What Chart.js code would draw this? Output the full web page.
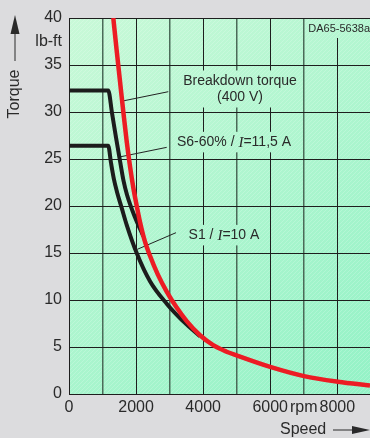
<!DOCTYPE html>
<html>
<head>
<meta charset="utf-8">
<script src="https://cdn.jsdelivr.net/npm/chart.js@4.4.0/dist/chart.umd.min.js"></script>
<style>
  html, body { margin: 0; padding: 0; background: #dcdcde; overflow: hidden; }
  #wrap { width: 370px; height: 438px; }
</style>
</head>
<body>
<div id="wrap"><canvas id="myChart" width="370" height="438"></canvas></div>
<script>
// Torque (lb-ft) against speed (rpm)
const breakdownRpm    = [1321, 1420, 1520, 1620, 1720, 1820, 1920, 2020, 2117, 2250, 2415, 2650, 2913, 3200, 3509, 3906, 4300, 4700, 5000, 6023, 7007, 8020, 8975];
const breakdownTorque = [40.0, 36.6, 33.3, 30.0, 26.9, 24.2, 21.9, 20.0, 18.3, 16.4, 14.7, 12.7, 10.9, 9.25, 7.75, 6.25, 5.2, 4.5, 4.1, 2.85, 1.9, 1.3, 0.9];

const s6Rpm    = [0, 1170, 1282, 1401, 1521, 1625, 1729, 1968, 2215];
const s6Torque = [32.3, 32.3, 29.9, 27.3, 24.8, 22.7, 21.2, 18.8, 16.8];

const s1Rpm    = [0, 1170, 1252, 1342, 1431, 1571, 1720, 2018, 2415, 2913, 3300, 3600, 3906];
const s1Torque = [26.4, 26.4, 24.6, 22.8, 21.5, 19.8, 18.0, 15.0, 12.0, 9.6, 8.1, 7.1, 6.15];

const xTickValues = [0, 1000, 2000, 3000, 4000, 5000, 6000, 7000, 8000];
const xTickLabels = ['0', '', '2000', '', '4000', '', '6000', 'rpm', '8000'];
const yTickValues = [0, 2.5, 5, 7.5, 10, 12.5, 15, 17.5, 20, 22.5, 25, 27.5, 30, 32.5, 35, 37.5, 40];
const yUnitLabel = 'lb-ft';

// Callouts: text anchor and leader line, in data units
const callouts = [
  { lines: [[{ t: 'Breakdown torque' }], [{ t: '(400 V)' }]], at: [5098, 32.45], from: [2961, 32.16], to: [1601, 31.17] },
  { lines: [[{ t: 'S6-60% / ' }, { t: 'I', it: true }, { t: '=11,5 A' }]], at: [4920, 26.8], from: [2913, 26.24], to: [1541, 25.24] },
  { lines: [[{ t: 'S1 / ' }, { t: 'I', it: true }, { t: '=10 A' }]], at: [4621, 16.9], from: [3190, 17.16], to: [2036, 15.39] }
];

const SANS = '"Liberation Sans", Arial, sans-serif';
const TEXT = '#2a2a2a';
const GRID = '#1e1e1e';

function toPoints(xs, ys) {
  return xs.map((x, i) => ({ x: x, y: ys[i] }));
}

function makeHatch() {
  const c = document.createElement('canvas');
  c.width = 4; c.height = 4;
  const h = c.getContext('2d');
  h.strokeStyle = 'rgba(255,255,255,0.18)';
  h.lineWidth = 1;
  h.beginPath();
  h.moveTo(0, 4); h.lineTo(4, 0);
  h.stroke();
  return c;
}
const hatch = makeHatch();

function fillPlot(chart, x, y, w, h) {
  const ctx = chart.ctx;
  ctx.fillStyle = chart.$bg;
  ctx.fillRect(x, y, w, h);
  ctx.fillStyle = ctx.createPattern(hatch, 'repeat');
  ctx.fillRect(x, y, w, h);
}

function partFont(p) {
  return p.it ? 'italic 15px "Liberation Serif", "Times New Roman", serif' : '14px ' + SANS;
}

function lineWidthOf(ctx, parts) {
  let w = 0;
  parts.forEach(p => { ctx.font = partFont(p); w += ctx.measureText(p.t).width; });
  return w;
}

const plotDecor = {
  id: 'plotDecor',
  beforeDraw(chart) {
    const { ctx, chartArea: a } = chart;
    ctx.save();
    ctx.fillStyle = '#dcdcde';
    ctx.fillRect(0, 0, chart.width, chart.height);
    const g = ctx.createLinearGradient(a.left, a.top, a.right, a.bottom);
    g.addColorStop(0, '#c9f9d8');
    g.addColorStop(1, '#93f2c6');
    chart.$bg = g;
    fillPlot(chart, a.left, a.top, a.right - a.left, a.bottom - a.top);
    ctx.restore();
  },
  beforeDatasetsDraw(chart) {
    const { ctx, chartArea: a } = chart;
    const xs = chart.scales.x, ys = chart.scales.y;
    ctx.save();
    ctx.textBaseline = 'middle';
    ctx.textAlign = 'left';

    callouts.forEach(c => {
      const cx = xs.getPixelForValue(c.at[0]);
      const cy = ys.getPixelForValue(c.at[1]);
      const lh = 16.5;
      const widths = c.lines.map(l => lineWidthOf(ctx, l));
      const maxW = Math.max(...widths);
      const totalH = lh * c.lines.length;
      fillPlot(chart, cx - maxW / 2 - 3, cy - totalH / 2 - 2, maxW + 6, totalH + 4);
      ctx.fillStyle = TEXT;
      c.lines.forEach((l, i) => {
        let x = cx - widths[i] / 2;
        const y = cy - totalH / 2 + lh * (i + 0.5);
        l.forEach(p => {
          ctx.font = partFont(p);
          ctx.fillText(p.t, x, y + (p.it ? 0.5 : 0));
          x += ctx.measureText(p.t).width;
        });
      });
      ctx.strokeStyle = '#222';
      ctx.lineWidth = 1;
      ctx.beginPath();
      ctx.moveTo(xs.getPixelForValue(c.from[0]), ys.getPixelForValue(c.from[1]));
      ctx.lineTo(xs.getPixelForValue(c.to[0]), ys.getPixelForValue(c.to[1]));
      ctx.stroke();
    });

    // drawing code in the top right corner
    ctx.font = '11px ' + SANS;
    const code = 'DA65-5638a';
    const cw = ctx.measureText(code).width;
    fillPlot(chart, a.right - cw - 3, a.top + 1, cw + 3, 19);
    ctx.fillStyle = TEXT;
    ctx.fillText(code, a.right - cw, a.top + 11);
    ctx.restore();
  },
  afterDraw(chart) {
    const { ctx } = chart;
    ctx.save();
    ctx.fillStyle = TEXT;
    ctx.strokeStyle = TEXT;
    ctx.font = '16px ' + SANS;

    // y axis title with upward arrow
    ctx.save();
    ctx.translate(15, 94);
    ctx.rotate(-Math.PI / 2);
    ctx.textAlign = 'center';
    ctx.textBaseline = 'middle';
    ctx.fillText('Torque', 0, 0);
    ctx.restore();
    ctx.lineWidth = 1;
    ctx.beginPath();
    ctx.moveTo(15, 61); ctx.lineTo(15, 30);
    ctx.stroke();
    ctx.beginPath();
    ctx.moveTo(15, 15); ctx.lineTo(19.5, 34); ctx.lineTo(10.5, 34);
    ctx.closePath(); ctx.fill();

    // x axis title with right arrow
    ctx.textAlign = 'left';
    ctx.textBaseline = 'middle';
    ctx.fillText('Speed', 280, 430);
    ctx.beginPath();
    ctx.moveTo(333, 430); ctx.lineTo(356, 430);
    ctx.stroke();
    ctx.beginPath();
    ctx.moveTo(370, 430); ctx.lineTo(352, 426); ctx.lineTo(352, 434);
    ctx.closePath(); ctx.fill();
    ctx.restore();
  }
};

const ctx = document.getElementById('myChart').getContext('2d');
const torqueChart = new Chart(ctx, {
  type: 'line',
  data: {
    datasets: [
      {
        label: 'Breakdown torque (400 V)',
        data: toPoints(breakdownRpm, breakdownTorque),
        borderColor: '#ec1c24',
        borderWidth: 4.5,
        order: 0
      },
      {
        label: 'S6-60% / I=11,5 A',
        data: toPoints(s6Rpm, s6Torque),
        borderColor: '#1c1c1c',
        borderWidth: 4,
        order: 1
      },
      {
        label: 'S1 / I=10 A',
        data: toPoints(s1Rpm, s1Torque),
        borderColor: '#1c1c1c',
        borderWidth: 4,
        order: 2
      }
    ]
  },
  options: {
    responsive: false,
    devicePixelRatio: 1,
    animation: false,
    layout: { padding: { top: 18, right: 0, left: 0, bottom: 0 } },
    elements: {
      point: { radius: 0 },
      line: { cubicInterpolationMode: 'monotone', fill: false, borderCapStyle: 'butt', borderJoinStyle: 'round' }
    },
    plugins: {
      legend: { display: false },
      tooltip: { enabled: false }
    },
    scales: {
      x: {
        type: 'linear',
        min: 0,
        max: 8975,
        afterFit: s => { s.height = 44; },
        afterBuildTicks: s => { s.ticks = xTickValues.map(v => ({ value: v })); },
        ticks: {
          autoSkip: false,
          maxRotation: 0,
          padding: 4,
          color: TEXT,
          font: { family: SANS, size: 16 },
          callback: v => xTickLabels[xTickValues.indexOf(v)] ?? ''
        },
        grid: {
          drawTicks: false,
          color: c => (c.tick && c.tick.value % 2000 === 0) ? GRID : '#4b6a58',
          lineWidth: c => (c.tick && c.tick.value % 2000 === 0) ? 1 : 1.5
        },
        border: { display: true, color: GRID, width: 1 }
      },
      y: {
        type: 'linear',
        min: 0,
        max: 40,
        afterFit: s => { s.width = 69; },
        afterBuildTicks: s => { s.ticks = yTickValues.map(v => ({ value: v })); },
        ticks: {
          autoSkip: false,
          padding: 7,
          color: TEXT,
          font: { family: SANS, size: 16 },
          callback: v => v === 37.5 ? yUnitLabel : (v % 5 === 0 ? String(v) : '')
        },
        grid: {
          drawTicks: false,
          color: c => (c.tick && c.tick.value % 5 === 0) ? GRID : 'rgba(0,0,0,0)',
          lineWidth: 1
        },
        border: { display: true, color: GRID, width: 1 }
      }
    }
  },
  plugins: [plotDecor]
});
</script>
</body>
</html>
